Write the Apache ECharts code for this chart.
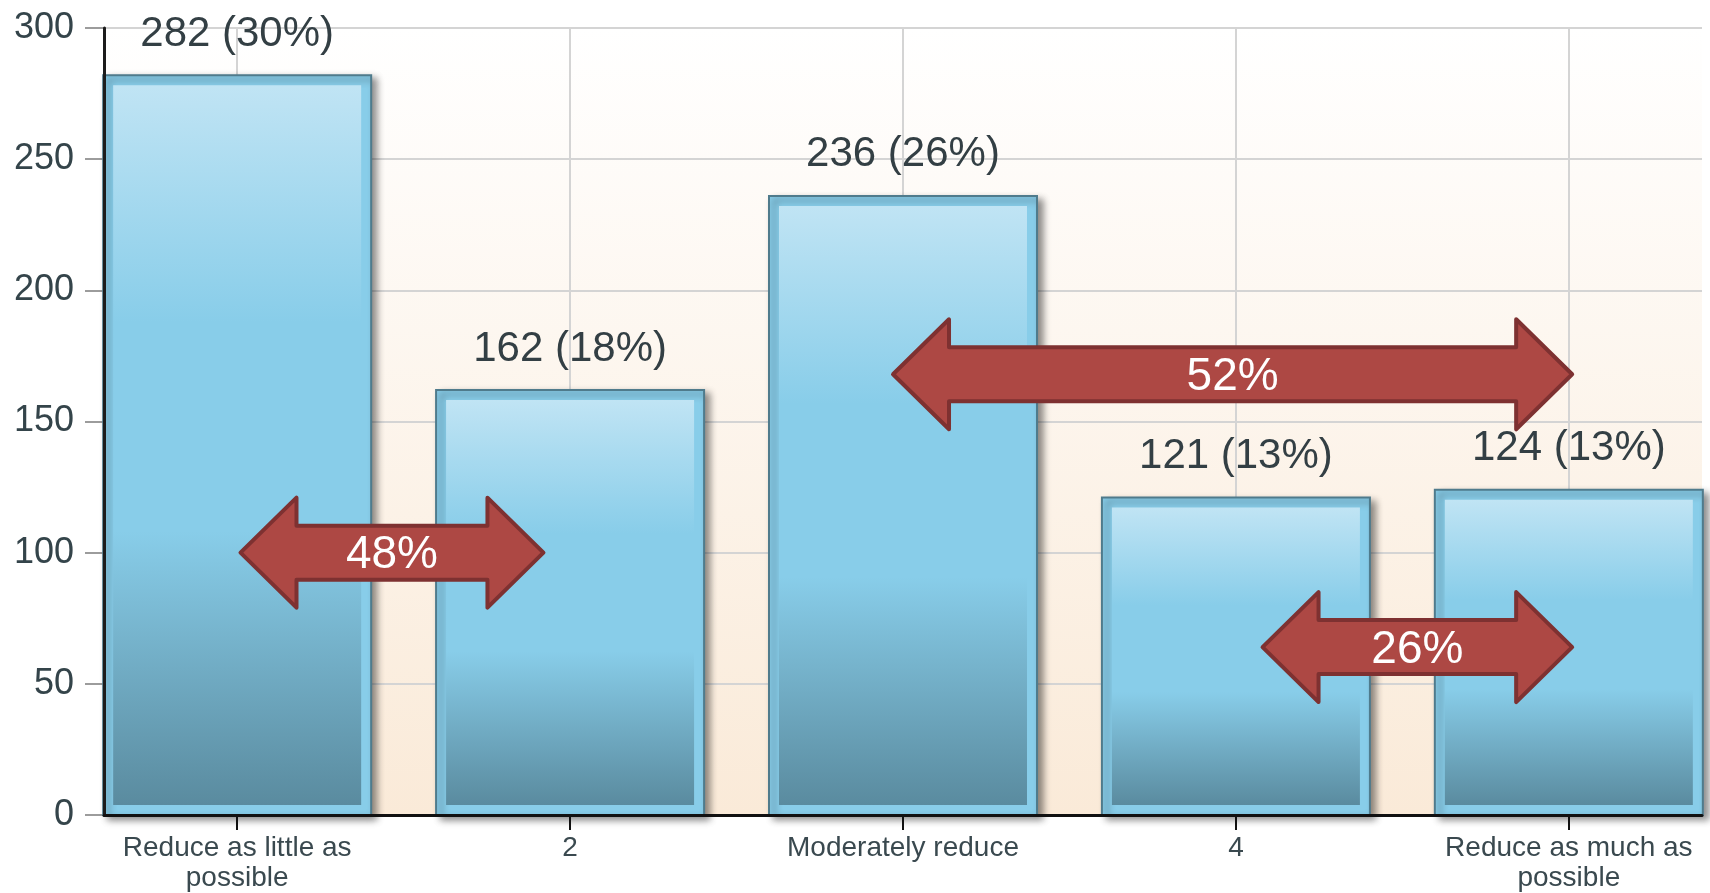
<!DOCTYPE html>
<html>
<head>
<meta charset="utf-8">
<script src="https://cdn.jsdelivr.net/npm/echarts@6/dist/echarts.min.js"></script>
<style>
  html, body { margin: 0; padding: 0; background: #ffffff; }
  #chart { width: 1710px; height: 893px; }
</style>
</head>
<body>
<div id="chart"></div>
<script>
// Survey answers on a 1–5 scale
const categories = ['Reduce as little as\npossible', '2', 'Moderately reduce', '4', 'Reduce as much as\npossible'];
const responses = [282, 162, 236, 121, 124];

// Double-headed bracket arrows grouping neighbouring answers
const arrowFrom = [0.01, 1.97, 3.08];
const arrowTo = [0.92, 4.01, 4.01];
const arrowLevel = [100, 168, 64];
const arrowLabels = ['48%', '52%', '26%'];

const FONT = '"Liberation Sans", Arial, sans-serif';
const total = responses.reduce((a, b) => a + b, 0);
const catIndex = categories.map((_, i) => i);

const barData = responses.map((v, i) => [i, v]);
const arrowData = arrowFrom.map((x0, i) => [x0, arrowTo[i], arrowLevel[i]]);

const chart = echarts.init(document.getElementById('chart'), null, { renderer: 'canvas' });

chart.setOption({
  animation: false,
  backgroundColor: '#ffffff',
  grid: {
    left: 104, right: 8, top: 28, bottom: 78,
    outerBoundsMode: 'none',
    show: true,
    borderWidth: 0,
    backgroundColor: {
      type: 'linear', x: 0, y: 0, x2: 0, y2: 1,
      colorStops: [
        { offset: 0, color: '#ffffff' },
        { offset: 1, color: '#faead8' }
      ]
    }
  },
  xAxis: [
    {
      type: 'value', min: -0.4, max: 4.4,
      axisLine: { show: false, onZero: false },
      axisTick: { show: false, customValues: catIndex },
      axisLabel: {
        customValues: catIndex,
        formatter: v => categories[Math.round(v)],
        fontFamily: FONT, fontSize: 28, lineHeight: 30,
        color: '#3a494f', margin: 18
      },
      splitLine: { show: true, lineStyle: { color: '#d4d4d4', width: 2 } }
    },
    {
      type: 'value', min: -0.4, max: 4.4, position: 'bottom', z: 10,
      axisLine: { show: true, onZero: false, lineStyle: { color: '#111111', width: 3 } },
      axisTick: { show: true, customValues: catIndex, length: 15, lineStyle: { color: '#111111', width: 2 } },
      axisLabel: { show: false },
      splitLine: { show: false }
    }
  ],
  yAxis: [
    {
      type: 'value', min: 0, max: 300, interval: 50,
      axisLine: { show: false, onZero: false },
      axisTick: { show: true, length: 19, lineStyle: { color: '#9c9c9c', width: 2 } },
      axisLabel: { fontFamily: FONT, fontSize: 36, color: '#34444a', margin: 30 },
      splitLine: { show: true, lineStyle: { color: '#d4d4d4', width: 2 } }
    },
    {
      type: 'value', min: 0, max: 300, interval: 50, position: 'left', z: 10,
      axisLine: { show: true, onZero: false, lineStyle: { color: '#1c1c1c', width: 3 } },
      axisTick: { show: false },
      axisLabel: { show: false },
      splitLine: { show: false }
    }
  ],
  series: [
    {
      type: 'custom',
      name: 'responses',
      xAxisIndex: 0, yAxisIndex: 0,
      encode: { x: 0, y: 1 },
      data: barData,
      renderItem(params, api) {
        const x = api.value(0);
        const v = api.value(1);
        const top = api.coord([x, v]);
        const base = api.coord([x, 0]);
        const w = api.size([0.805, 0])[0];
        const left = top[0] - w / 2;
        const h = base[1] - top[1];
        const inset = 10;
        const pct = Math.round(v / total * 100);
        return {
          type: 'group',
          children: [
            {
              type: 'rect',
              shape: { x: left, y: top[1], width: w, height: h },
              style: {
                fill: '#88cde9', stroke: '#4f7b8c', lineWidth: 2,
                shadowBlur: 7, shadowOffsetX: 5, shadowOffsetY: 4,
                shadowColor: 'rgba(0,0,0,0.45)'
              }
            },
            {
              type: 'rect',
              shape: { x: left + inset, y: top[1] + inset, width: w - 2 * inset, height: h - 2 * inset },
              style: {
                fill: {
                  type: 'linear', x: 0, y: 0, x2: 0, y2: 1,
                  colorStops: [
                    { offset: 0, color: '#c0e4f4' },
                    { offset: 0.33, color: '#88cde9' },
                    { offset: 0.62, color: '#88cde9' },
                    { offset: 1, color: '#5a8b9f' }
                  ]
                }
              }
            },
            {
              type: 'text',
              x: top[0], y: top[1] - 20,
              style: {
                text: v + ' (' + pct + '%)',
                fontFamily: FONT, fontSize: 42,
                fill: '#333f44',
                align: 'center', verticalAlign: 'bottom'
              }
            }
          ]
        };
      }
    },
    {
      type: 'custom',
      name: 'groups',
      z: 5,
      xAxisIndex: 0, yAxisIndex: 0,
      encode: { x: [0, 1], y: 2 },
      data: arrowData,
      renderItem(params, api) {
        const pL = api.coord([api.value(0), api.value(2)]);
        const pR = api.coord([api.value(1), api.value(2)]);
        const y = pL[1];
        const xl = pL[0], xr = pR[0];
        const L = 56, H = 55, h = 27;
        const points = [
          [xl, y], [xl + L, y - H], [xl + L, y - h], [xr - L, y - h], [xr - L, y - H],
          [xr, y], [xr - L, y + H], [xr - L, y + h], [xl + L, y + h], [xl + L, y + H]
        ];
        return {
          type: 'group',
          children: [
            {
              type: 'polygon',
              shape: { points },
              style: { fill: '#ad4844', stroke: '#7e3131', lineWidth: 4, lineJoin: 'round' }
            },
            {
              type: 'text',
              x: (xl + xr) / 2, y: y + 3,
              style: {
                text: arrowLabels[params.dataIndex],
                fontFamily: FONT, fontSize: 46,
                fill: '#ffffff',
                align: 'center', verticalAlign: 'middle'
              }
            }
          ]
        };
      }
    }
  ]
});
</script>
</body>
</html>
